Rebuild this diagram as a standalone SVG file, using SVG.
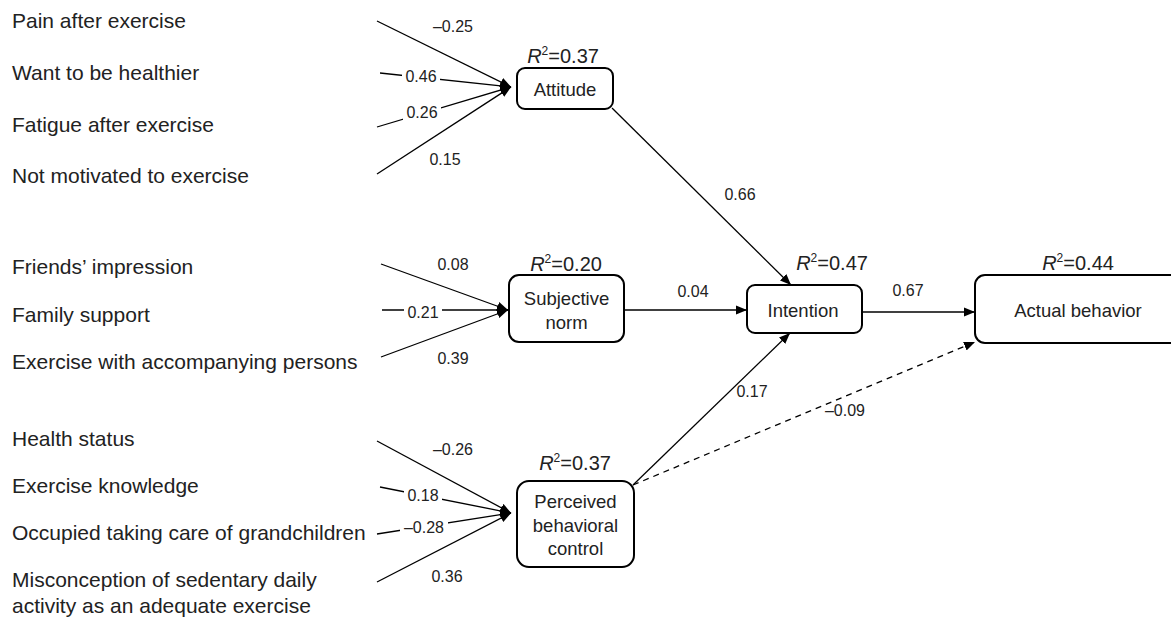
<svg xmlns="http://www.w3.org/2000/svg" width="1171" height="618" viewBox="0 0 1171 618">
<style>
text{font-family:"Liberation Sans",Arial,sans-serif;fill:#222}
.lt{font-size:21px}
.nl{font-size:18.5px;text-anchor:middle}
.r2{font-size:20px;text-anchor:middle}
.num{font-size:16px;text-anchor:middle}
.bg{fill:#fff}
.box{fill:#fff;stroke:#000;stroke-width:2}
.ln{stroke:#000;stroke-width:1.3;fill:none}
.dash{stroke-dasharray:6 5}
</style>
<defs>
<marker id="ah" markerUnits="userSpaceOnUse" markerWidth="12" markerHeight="10" refX="11" refY="5" orient="auto">
<path d="M0,0.5 L11,5 L0,9.5 z" fill="#000"/>
</marker>
</defs>
<rect width="1171" height="618" fill="#fff"/>
<g id="indicator-labels">
<text class="lt" x="12" y="28">Pain after exercise</text>
<text class="lt" x="12" y="80">Want to be healthier</text>
<text class="lt" x="12" y="132">Fatigue after exercise</text>
<text class="lt" x="12" y="183">Not motivated to exercise</text>
<text class="lt" x="12" y="274">Friends’ impression</text>
<text class="lt" x="12" y="322">Family support</text>
<text class="lt" x="12" y="369">Exercise with accompanying persons</text>
<text class="lt" x="12" y="446">Health status</text>
<text class="lt" x="12" y="493">Exercise knowledge</text>
<text class="lt" x="12" y="540">Occupied taking care of grandchildren</text>
<text class="lt" x="12" y="587">Misconception of sedentary daily</text>
<text class="lt" x="12" y="613">activity as an adequate exercise</text>
</g>
<g id="connectors">
<line class="ln" x1="377" y1="21" x2="511" y2="87" marker-end="url(#ah)"/>
<line class="ln" x1="380" y1="73" x2="511" y2="87" marker-end="url(#ah)"/>
<line class="ln" x1="377" y1="127" x2="511" y2="87" marker-end="url(#ah)"/>
<line class="ln" x1="377" y1="174" x2="511" y2="87" marker-end="url(#ah)"/>
<line class="ln" x1="381" y1="264" x2="508" y2="310" marker-end="url(#ah)"/>
<line class="ln" x1="382" y1="310" x2="508" y2="310" marker-end="url(#ah)"/>
<line class="ln" x1="381" y1="357" x2="508" y2="310" marker-end="url(#ah)"/>
<line class="ln" x1="377" y1="441" x2="511" y2="513" marker-end="url(#ah)"/>
<line class="ln" x1="380" y1="487" x2="511" y2="513" marker-end="url(#ah)"/>
<line class="ln" x1="377" y1="534" x2="511" y2="513" marker-end="url(#ah)"/>
<line class="ln" x1="377" y1="582" x2="511" y2="513" marker-end="url(#ah)"/>
<line class="ln" x1="612" y1="108" x2="791" y2="285" marker-end="url(#ah)"/>
<line class="ln" x1="624" y1="310" x2="747" y2="310" marker-end="url(#ah)"/>
<line class="ln" x1="862" y1="312" x2="975" y2="312" marker-end="url(#ah)"/>
<line class="ln" x1="633" y1="485" x2="790" y2="333" marker-end="url(#ah)"/>
<line class="ln dash" x1="633" y1="485" x2="975" y2="342" marker-end="url(#ah)"/>
</g>
<g id="path-labels">
<rect class="bg" x="402" y="68" width="38" height="17"/>
<rect class="bg" x="403" y="104" width="38" height="16"/>
<rect class="bg" x="404" y="304" width="38" height="16"/>
<rect class="bg" x="404" y="487" width="38" height="16"/>
<rect class="bg" x="400" y="519" width="48" height="16"/>
<text class="num" x="453" y="32">–0.25</text>
<text class="num" x="421" y="82">0.46</text>
<text class="num" x="422" y="118">0.26</text>
<text class="num" x="445" y="165">0.15</text>
<text class="num" x="453" y="270">0.08</text>
<text class="num" x="423" y="318">0.21</text>
<text class="num" x="453" y="364">0.39</text>
<text class="num" x="453" y="455">–0.26</text>
<text class="num" x="423" y="501">0.18</text>
<text class="num" x="424" y="533">–0.28</text>
<text class="num" x="447" y="582">0.36</text>
<text class="num" x="740" y="200">0.66</text>
<text class="num" x="693" y="297">0.04</text>
<text class="num" x="908" y="296">0.67</text>
<text class="num" x="752" y="397">0.17</text>
<text class="num" x="845" y="416">–0.09</text>
</g>
<g id="attitude">
<rect class="box" x="517" y="68" width="96" height="41" rx="8"/>
<text class="nl" x="565" y="95.5">Attitude</text>
<text class="r2" x="563" y="63"><tspan font-style="italic">R</tspan><tspan dy="-8" font-size="12">2</tspan><tspan dy="8">=0.37</tspan></text>
</g>
<g id="subjective-norm">
<rect class="box" x="509" y="275" width="115" height="67" rx="10"/>
<text class="nl" x="566.5" y="304.5">Subjective</text>
<text class="nl" x="566.5" y="328.5">norm</text>
<text class="r2" x="566" y="271"><tspan font-style="italic">R</tspan><tspan dy="-8" font-size="12">2</tspan><tspan dy="8">=0.20</tspan></text>
</g>
<g id="pbc">
<rect class="box" x="517" y="481" width="117" height="86" rx="12"/>
<text class="nl" x="575.5" y="507.5">Perceived</text>
<text class="nl" x="575.5" y="531.5">behavioral</text>
<text class="nl" x="575.5" y="554.5">control</text>
<text class="r2" x="575" y="470"><tspan font-style="italic">R</tspan><tspan dy="-8" font-size="12">2</tspan><tspan dy="8">=0.37</tspan></text>
</g>
<g id="intention">
<rect class="box" x="747" y="285" width="115" height="48" rx="8"/>
<text class="nl" x="803" y="316.5">Intention</text>
<text class="r2" x="832" y="270"><tspan font-style="italic">R</tspan><tspan dy="-8" font-size="12">2</tspan><tspan dy="8">=0.47</tspan></text>
</g>
<g id="actual-behavior">
<rect class="box" x="975" y="275" width="210" height="68" rx="10"/>
<text class="nl" x="1078" y="316.5">Actual behavior</text>
<text class="r2" x="1078" y="270"><tspan font-style="italic">R</tspan><tspan dy="-8" font-size="12">2</tspan><tspan dy="8">=0.44</tspan></text>
</g>
</svg>
